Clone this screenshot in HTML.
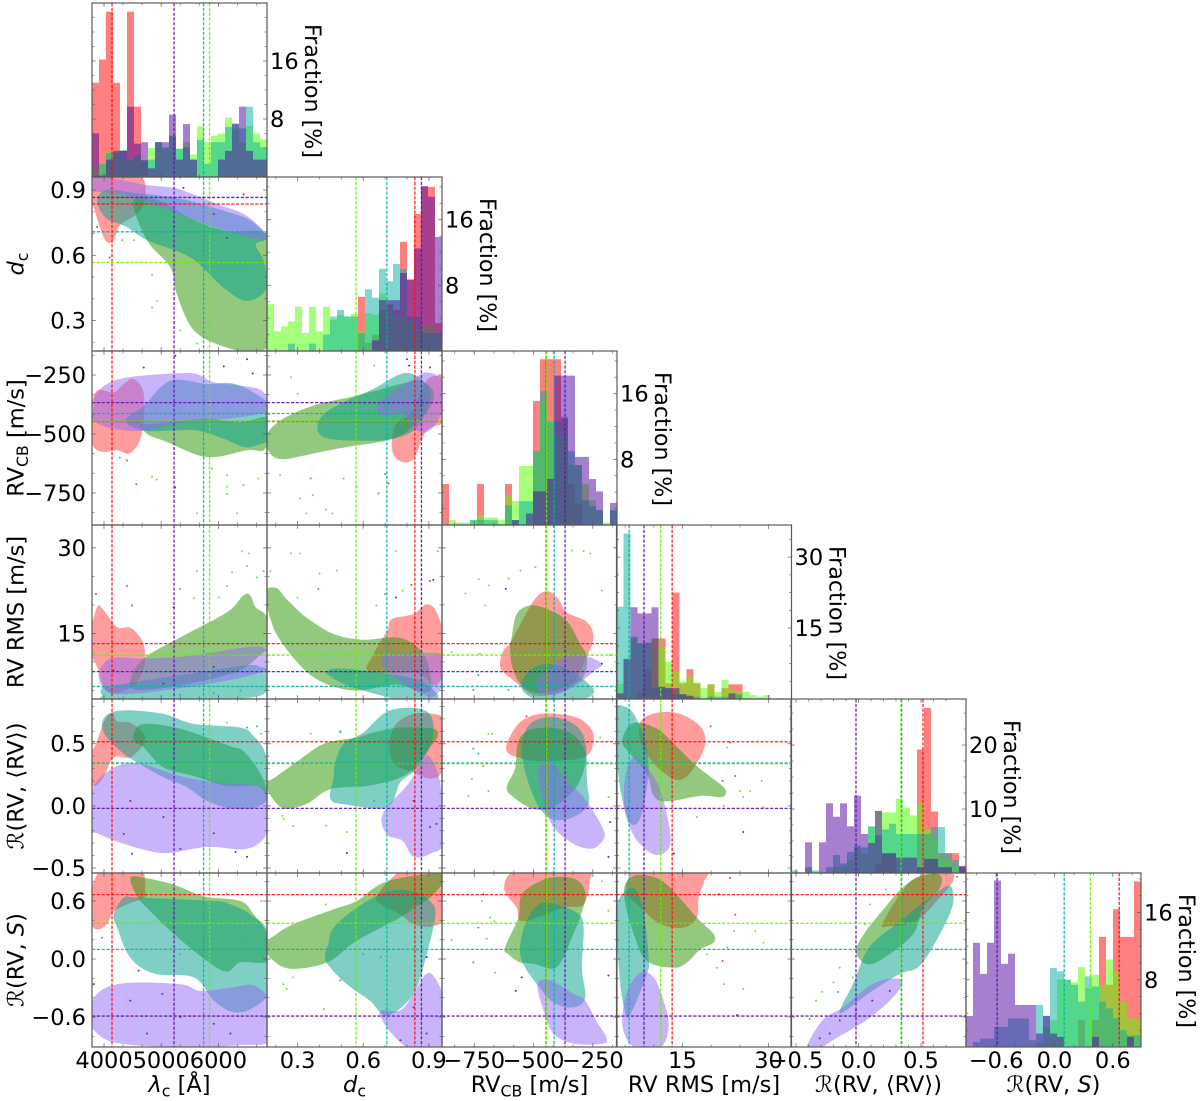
<!DOCTYPE html>
<html lang="en">
<head>
<meta charset="utf-8">
<title>Corner plot of RV metrics</title>
<style>
html,body{margin:0;padding:0;background:#fff;}
svg{display:block;font-family:"DejaVu Sans","Liberation Sans",sans-serif;filter:blur(0.3px);}
</style>
</head>
<body>
<svg id="chart" xmlns="http://www.w3.org/2000/svg" width="1200" height="1101" viewBox="0 0 1200 1101"></svg>
<script>
/* axis ranges and tick labels */
const limLam=[3790,6850], limD=[0.16,0.96], limRv=[-886,-148], limRms=[3.5,34], limR1=[-0.54,0.86], limR2=[-0.91,0.89];
const ticksLam=[4000,5000,6000], ticksD=[0.3,0.6,0.9], ticksRv=[-750,-500,-250], ticksRms=[15,30], ticksR1=[-0.5,0,0.5], ticksR2=[-0.6,0,0.6];
const minorLam=333.33, minorD=0.1, minorRv=83.33, minorRms=5, minorR1=0.1, minorR2=0.2;
const labelsLam=["4000","5000","6000"], labelsD=["0.3","0.6","0.9"], labelsRv=["−750","−500","−250"], labelsRms=["15","30"], labelsR1=["−0.5","0.0","0.5"], labelsR2=["−0.6","0.0","0.6"];
/* histogram fractions [%], 25 bins per variable */
const histLamRed=[13,16.2,22.8,13,3.6,22.8,9.7,2.3,0,0,0,0,0,0,0,0,0,0,0,0,0,0,0,0,0];
const histLamLime=[1.4,1.8,3.4,3.4,2.3,2.3,2.8,2.3,4,4.8,3.9,5.7,3.9,4.8,3.1,7,4.8,5.7,6,8.2,6.7,4.8,7,6,5.2];
const histLamTeal=[.2,1.8,3.3,3.4,3.7,2.3,3,2.3,2.4,4.8,4.1,5.7,3.9,4.1,2.4,5.1,1.8,4.8,4.8,6.9,7.4,6.7,9.7,4.8,4.1];
const histLamPurple=[6,.2,2.4,3.6,3.6,9.7,4.6,4.8,1.2,4.8,4.8,8.6,2.4,7.3,2.4,0,0,0,2.4,3.6,7.3,9.7,3.6,2.4,2.4];
const histDRed=[0,0,0,0,0,0,0,0,0,0,0,0,0,6.6,1,2,5,5.7,5,13.3,8.7,16.7,20,20,3.4];
const histDLime=[5.7,2.4,3,3.6,5.4,2.2,5.4,2.4,5.4,3.8,4.4,4.2,4.5,2.4,4.6,4.4,7,5.4,4.2,4.2,3.6,2.2,3,3,2.2];
const histDTeal=[0,0,0,.9,0,0,.9,0,2,4.2,5,4.2,4.2,2.2,7.5,6.5,10,8.5,10.6,10,4.2,4.2,2.2,2.2,2.2];
const histDPurple=[0,0,0,0,0,0,0,0,0,0,0,0,0,0,0,1.3,6.2,6.2,6.2,9.5,8.7,12.5,20.1,18.8,13.9];
const histRvRed=[5,0,0,0,0,5,0,0,0,5,0,0,0,15.1,20.2,20.2,20.2,13,5,2.6,0,0,0,0,0];
const histRvLime=[0,.6,.3,.3,.6,1.2,.9,.9,.6,3.6,2.9,7.2,7.2,9,14.8,12.6,10.9,10.9,7.3,7.3,5,3,1.8,.3,1.8];
const histRvTeal=[0,0,0,0,.6,.6,.6,.6,0,2.4,.6,2.9,2.9,9,16.3,12.6,12.6,13.2,9,7.3,3,2.3,1.8,0,1.8];
const histRvPurple=[0,0,0,0,0,0,0,0,0,0,.6,0,1.4,4.1,4.1,5.6,18.2,18.2,18.2,8.3,8.3,5.6,4.1,0,2.7];
const histRmsRed=[0,0,0,1.2,6.3,12.8,12.8,3.3,22.5,3.3,6.3,3.3,0,3.1,0,2.3,3.1,3.1,0,0,0,0,0,0,0];
const histRmsLime=[3.3,8.6,12.8,11.8,11.9,12.8,11,7.9,5.8,3.7,5,3.5,2.3,3.1,1.5,4,1.9,1.5,1.5,.8,.5,.8,0,.1,0];
const histRmsTeal=[19.5,35,13.2,11.8,11.9,2.3,2.3,2.3,1,1,.5,.5,0,.5,.5,.5,0,1,0,0,0,0,0,0,0];
const histRmsPurple=[1.2,8.4,19.4,18.1,18.1,19.4,2.6,2.3,2.3,1,.7,0,0,0,0,0,1.2,0,0,0,0,0,0,0,0];
const histR1Red=[0,0,0,0,0,0,0,0,0,0,0,0,1.5,3,3.1,0,0,0,19.3,25.8,9.6,3.1,3.1,3.1,1];
const histR1Lime=[0,0,0,0,0,0,1,1,2,4,3,7.2,9.7,9.5,9.5,11.6,10.2,9,11,6.7,5.4,2.5,2,1,0];
const histR1Teal=[.4,0,.9,.4,0,.9,2.8,1.5,3.3,4.3,4,7.3,5.9,6.8,7.7,6.1,6.1,6.1,6.1,6.1,7.2,7.2,3.1,2,.9];
const histR1Purple=[0,0,4.8,0,4.8,10.9,8.8,10.9,7.3,12.1,6.1,4.7,9.7,3.1,3.1,2.4,2.4,2.4,.9,2.2,2.2,.9,.9,0,1.1];
const histR2Red=[0,0,0,0,0,0,0,0,0,0,0,0,0,0,0,0,3.2,0,3.2,13.1,7.4,16.4,13.1,13.1,19.7];
const histR2Lime=[0,0,0,0,0,0,0,0,0,0,.5,2.4,3.2,8,8,7.7,9.5,7,8.6,7.4,10.4,8.9,5.4,3.4,3.4];
const histR2Teal=[0,.6,1,1,2.4,2.4,3.4,3.4,3.4,.8,5,3.7,9.4,9,8,7.4,5.4,8.4,7.2,5.4,4.6,3.4,2,1.4,1.4];
const histR2Purple=[3.7,12.4,8.7,12.4,19.8,9.9,11.1,5,5,5,1.6,3.7,1.6,1.2,0,0,0,0,1.2,0,0,0,0,1.2,0];
/* population medians: red, lime, teal, purple */
const medLam=[4140,5846,5741,5225], medD=[.836,.567,.708,.866], medRv=[-447,-445,-413,-367], medRms=[13.2,11.2,5.7,8.3], medR1=[.516,.34,.345,-.02], medR2=[.666,.37,.10,-.59];
/* fraction axes: tick values and scale top */
const fracTop=[24,21.2,21.2,36.8,27.2,20.7];
const fracTicks0=[8,16], fracTicks1=[8,16], fracTicks2=[8,16], fracTicks3=[15,30], fracTicks4=[10,20], fracTicks5=[8,16];
/* KDE contour outlines in data units [x value, y value] */
const kde_d_lam={red:[[3740,.91],[3820,.82],[4020,.67],[4170,.67],[4285,.74],[4575,.79],[4720,.86],[4605,.97],[3740,.97]],
lime:[[4520,.85],[4750,.67],[5160,.545],[5275,.42],[5570,.255],[6095,.18],[6675,.157],[6910,.24],[6910,.67],[6150,.71],[5510,.77],[4985,.85]],
teal:[[3880,.85],[4040,.90],[4460,.89],[5335,.86],[6150,.80],[6560,.76],[6850,.68],[6650,.65],[6790,.575],[6850,.45],[6500,.39],[6095,.45],[5510,.59],[4750,.67],[4400,.73],[4040,.77]],
purple:[[3740,.97],[4700,.925],[5220,.91],[5510,.885],[6035,.83],[6440,.79],[6730,.73],[6900,.68],[6675,.675],[6150,.71],[5510,.77],[4700,.85],[4240,.885],[3740,.90]]};
const kde_rv_lam={red:[[3760,-480],[3820,-555],[4000,-576],[4230,-569],[4460,-581],[4665,-499],[4695,-330],[4520,-267],[4345,-288],[4170,-323],[3880,-316],[3760,-400]],
lime:[[4575,-440],[4750,-499],[5100,-534],[5800,-598],[6500,-569],[6820,-562],[6940,-430],[6385,-450],[5800,-436],[5160,-450],[4635,-457]],
teal:[[4375,-443],[4695,-380],[5160,-274],[5800,-288],[6210,-284],[6560,-316],[6910,-387],[6910,-513],[6675,-548],[6440,-555],[6095,-520],[5625,-485],[5220,-485],[4695,-485]],
purple:[[3820,-387],[3880,-323],[4170,-274],[4635,-253],[5335,-242],[5625,-246],[5920,-281],[6385,-295],[6765,-316],[6880,-387],[6850,-408],[6150,-436],[5335,-450],[4750,-485],[4170,-478],[3820,-443]]};
const kde_rv_d={red:[[.73,-541],[.745,-598],[.79,-621],[.835,-598],[.89,-485],[.98,-436],[.98,-274],[.905,-260],[.86,-330],[.815,-415],[.75,-457]],
lime:[[.155,-513],[.175,-583],[.235,-607],[.37,-583],[.525,-555],[.71,-527],[.805,-485],[.905,-387],[.92,-316],[.86,-274],[.80,-281],[.57,-337],[.37,-380],[.22,-443]],
teal:[[.39,-471],[.42,-513],[.525,-527],[.71,-524],[.83,-485],[.89,-401],[.905,-316],[.845,-253],[.77,-246],[.645,-309],[.51,-365],[.42,-415]],
purple:[[.66,-387],[.69,-422],[.78,-415],[.83,-478],[.89,-492],[.94,-443],[.97,-358],[.97,-274],[.89,-239],[.83,-267],[.74,-316],[.68,-358]]};
const kde_rms_lam={red:[[3740,14.3],[3880,19.6],[4000,19],[4230,16.1],[4460,16],[4665,13.8],[4720,10.9],[4665,8],[4490,5.6],[4170,4.5],[4000,5.6],[3880,9.1],[3740,12]],
lime:[[4460,6.8],[4695,10.6],[5335,14.3],[6150,18.7],[6440,21.7],[6560,21.6],[6650,19.6],[6850,17.8],[6910,12],[6790,11.7],[6325,8.3],[5335,5.9],[4575,5.1]],
teal:[[3965,5.4],[4170,5.9],[5335,7.7],[6500,9.4],[6735,9.1],[6880,8.5],[6880,5.6],[6440,3.6],[4170,3.3],[3965,4.2]],
purple:[[3905,7.7],[4110,10.6],[4695,10.6],[5335,10.9],[5920,11.7],[6500,12.6],[6820,12.3],[6940,9.1],[6325,7.1],[5335,5.4],[4460,4.4],[4050,4.8]]};
const kde_rms_d={red:[[.71,15.5],[.73,17.5],[.83,18.4],[.89,20.1],[.94,18.4],[.98,12],[.96,7.4],[.92,5.9],[.845,8],[.63,8.3],[.64,10.9]],
lime:[[.155,22.5],[.205,22.9],[.25,21],[.34,17.8],[.465,14.9],[.60,13.9],[.77,14.2],[.875,11.4],[.91,6.8],[.89,4.6],[.75,6],[.55,5],[.37,7.4],[.22,13.8],[.165,19]],
teal:[[.435,8.5],[.525,8.8],[.83,7.1],[.935,4.5],[.92,3.4],[.77,3.4],[.645,4.5],[.525,5.9],[.44,7.7]],
purple:[[.685,10.3],[.71,11.4],[.97,11.3],[.98,7.4],[.94,4.5],[.905,3.9],[.83,5.1],[.75,7.1],[.69,9.1]]};
const kde_rms_rv={red:[[-641,10],[-627,12],[-592,13.8],[-500,20.7],[-444,22.4],[-395,21],[-360,18.7],[-275,17],[-247,14.3],[-275,10.9],[-332,6.2],[-402,4.5],[-500,4.2],[-585,6.8],[-634,8.5]],
lime:[[-592,14.3],[-571,18.4],[-515,19.9],[-444,19.3],[-360,17.2],[-304,13.2],[-275,10.9],[-289,7.4],[-360,5.6],[-472,4.5],[-543,5.6],[-585,8.5],[-599,12]],
teal:[[-550,6.2],[-515,8.5],[-444,9.7],[-346,8.5],[-261,5.9],[-247,4.5],[-304,3.4],[-472,3.4],[-536,4.5]],
purple:[[-486,6.2],[-444,8.5],[-346,11.4],[-289,11.2],[-212,9.7],[-247,8.3],[-332,5.6],[-416,4.2],[-472,4.8]]};
const kde_r1_lam={red:[[3750,.20],[3850,.16],[4000,.24],[4170,.39],[4460,.39],[4695,.50],[4695,.58],[4460,.67],[4230,.68],[4140,.75],[4000,.68],[3880,.52],[3750,.39]],
lime:[[4520,.58],[4695,.66],[5335,.62],[6210,.48],[6440,.44],[6735,.26],[6880,.07],[6675,.16],[6150,.16],[5570,.24],[5040,.31],[4695,.47],[4550,.51]],
teal:[[3965,.66],[4080,.74],[4400,.77],[5040,.74],[5570,.66],[6385,.63],[6620,.56],[6820,.42],[6880,.10],[6675,-.01],[6210,-.02],[5800,.04],[5450,.15],[5040,.23],[4575,.35],[4345,.42],[4050,.55]],
purple:[[3740,.04],[3880,.20],[4230,.32],[4635,.34],[5335,.24],[6095,.18],[6675,.16],[6910,.04],[6850,-.22],[6500,-.345],[5800,-.33],[5040,-.38],[4345,-.305],[3880,-.22],[3740,-.2]]};
const kde_r1_d={red:[[.72,.50],[.74,.34],[.83,.27],[.905,.22],[.96,.28],[.98,.58],[.96,.71],[.92,.74],[.83,.74],[.75,.66]],
lime:[[.155,.175],[.17,.10],[.235,-.02],[.34,.015],[.45,.135],[.615,.16],[.75,.215],[.83,.30],[.905,.47],[.94,.56],[.92,.62],[.77,.63],[.645,.59],[.57,.55],[.42,.50],[.30,.36],[.205,.24]],
teal:[[.47,.34],[.51,.50],[.60,.59],[.70,.75],[.80,.79],[.89,.76],[.92,.66],[.91,.50],[.845,.30],[.77,.19],[.71,-.01],[.525,.01],[.45,.055],[.465,.23]],
purple:[[.685,-.145],[.715,-.24],[.78,-.28],[.83,-.41],[.905,-.385],[.97,-.28],[.95,.20],[.905,.39],[.875,.375],[.805,.175],[.72,.015],[.69,-.065]]};
const kde_r1_rv={red:[[-616,.46],[-564,.66],[-472,.74],[-332,.72],[-261,.63],[-247,.52],[-289,.39],[-472,.36],[-564,.39]],
lime:[[-613,.15],[-578,.30],[-567,.50],[-529,.60],[-430,.63],[-339,.58],[-282,.44],[-289,.28],[-332,.12],[-416,-.01],[-500,-.025],[-585,.07]],
teal:[[-550,.50],[-515,.66],[-430,.715],[-332,.66],[-282,.52],[-275,.20],[-268,.015],[-332,-.09],[-416,-.11],[-472,-.025],[-515,.15],[-543,.34]],
purple:[[-480,.28],[-451,.36],[-416,.35],[-374,.23],[-289,.07],[-233,-.09],[-200,-.225],[-219,-.305],[-261,-.345],[-332,-.305],[-416,-.17],[-458,.04]]};
const kde_r1_rms={red:[[7.7,.68],[10.6,.75],[14.6,.74],[18.1,.64],[19,.52],[18.1,.39],[15.8,.24],[13.5,.215],[10,.34],[7.7,.52]],
lime:[[4.5,.51],[5.4,.63],[7.1,.67],[10.6,.62],[13.5,.50],[17,.34],[19.3,.255],[22.2,.15],[22.5,.095],[21.6,.07],[18.1,.08],[12.3,.035],[10,.08],[8.8,.255],[5.9,.42]],
teal:[[3.5,.76],[4.8,.80],[6.5,.74],[8.3,.55],[9.1,.34],[8.8,.15],[7.7,-.09],[6.2,-.15],[4.8,-.01],[3.7,.31]],
purple:[[4.8,.04],[5.1,.255],[6.5,.39],[8.8,.31],[11.2,.12],[12.9,-.225],[12.3,-.36],[10,-.39],[7.1,-.28],[5.4,-.12]]};
const kde_r2_lam={red:[[3740,.39],[3880,.305],[4050,.36],[4170,.49],[4400,.565],[4695,.635],[4720,.705],[4635,.93],[3965,.93],[3740,.60]],
lime:[[4460,.84],[4695,.84],[5220,.77],[5745,.65],[6385,.60],[6620,.46],[6850,.26],[6880,-.02],[6385,-.035],[6150,-.13],[5800,-.02],[5220,.26],[4750,.53],[4575,.65]],
teal:[[4170,.46],[4345,.635],[4605,.635],[5920,.60],[6210,.565],[6560,.46],[6880,.26],[6900,-.30],[6620,-.50],[6270,-.55],[5920,-.43],[5570,-.19],[4870,-.15],[4460,.015],[4230,.325]],
purple:[[3740,-.60],[3880,-.36],[4345,-.25],[5335,-.26],[5685,-.33],[6270,-.29],[6620,-.275],[6900,-.445],[6900,-.84],[6385,-.89],[5335,-.91],[4285,-.875],[3880,-.77]]};
const kde_r2_d={red:[[.66,.635],[.715,.805],[.80,.93],[.98,.93],[.98,.46],[.92,.34],[.83,.36],[.77,.46],[.68,.565]],
lime:[[.155,.155],[.175,.015],[.265,-.10],[.435,-.035],[.57,.19],[.77,.43],[.83,.53],[.905,.635],[.97,.805],[.97,.89],[.71,.805],[.57,.60],[.465,.515],[.28,.36],[.205,.26]],
teal:[[.425,.015],[.45,-.09],[.525,-.26],[.63,-.43],[.71,-.585],[.83,-.36],[.89,.05],[.93,.46],[.905,.60],[.83,.70],[.71,.70],[.57,.53],[.465,.325],[.44,.155]],
purple:[[.68,-.60],[.73,-.77],[.83,-.95],[.98,-.95],[.97,-.43],[.92,-.17],[.88,-.17],[.83,-.36],[.77,-.53],[.685,-.53]]};
const kde_r2_rv={red:[[-624,.74],[-557,.93],[-275,.93],[-261,.83],[-289,.565],[-374,.53],[-543,.39],[-571,.53]],
lime:[[-620,.12],[-564,.43],[-550,.67],[-472,.805],[-402,.85],[-318,.82],[-280,.67],[-304,.43],[-332,.26],[-374,.015],[-416,-.10],[-500,-.05],[-557,-.035],[-606,.05]],
teal:[[-557,.12],[-536,.36],[-494,.53],[-444,.585],[-318,.48],[-289,.325],[-296,-.09],[-282,-.40],[-332,-.50],[-416,-.45],[-486,-.26],[-543,-.05]],
purple:[[-483,-.26],[-430,-.22],[-332,-.36],[-282,-.43],[-233,-.65],[-195,-.80],[-205,-.875],[-332,-.875],[-416,-.77],[-458,-.53]]};
const kde_r2_rms={red:[[5.4,.805],[7.7,.93],[18.7,.93],[18.7,.79],[17.8,.635],[17.5,.43],[15.2,.325],[11.2,.36],[7.7,.53],[5.4,.67]],
lime:[[4.8,.67],[5.9,.84],[8.8,.865],[12.3,.77],[17.5,.43],[20.4,.26],[20.4,.17],[18.1,.10],[15.8,-.035],[13.5,-.09],[8.8,-.02],[6.5,.26]],
teal:[[3.6,.53],[5.4,.72],[7.1,.70],[8.3,.46],[9.1,.015],[8.8,-.155],[5.9,-.57],[4.8,-.50],[3.9,-.09]],
purple:[[4.5,-.635],[5.4,-.33],[7.7,-.14],[10,-.19],[11.7,-.43],[12.6,-.70],[11.2,-.92],[7.7,-.95],[5.4,-.84]]};
const kde_r2_r1={red:[[.19,.36],[.33,.665],[.46,.84],[.73,.89],[.755,.805],[.65,.635],[.46,.39],[.25,.34]],
lime:[[-.02,.085],[.06,.29],[.19,.50],[.35,.735],[.515,.87],[.65,.87],[.65,.735],[.515,.53],[.435,.255],[.19,0],[.06,-.05]],
teal:[[-.14,-.50],[-.045,-.26],[.085,.12],[.33,.39],[.57,.635],[.73,.755],[.755,.565],[.65,.255],[.49,-.07],[.33,-.155],[.11,-.33],[-.125,-.55]],
purple:[[-.42,-.93],[-.29,-.635],[-.125,-.50],[.11,-.26],[.30,-.20],[.35,-.26],[.25,-.43],[.06,-.635],[-.205,-.84],[-.34,-.95]]};
/* individual simulation points */
const dots_d_lam={red:[[4100,.59],[3880,.73]],lime:[[4840,.51],[4930,.39],[4840,.36],[5335,.255],[5625,.195],[6150,.35],[6385,.21],[5830,.30],[6500,.315],[6620,.27],[4315,.67],[4520,.67]],teal:[[5920,.67],[6095,.56],[6385,.545],[5220,.64]],purple:[[5390,.91],[6440,.88],[6150,.68],[5920,.79]]};
const dots_rv_lam={red:[[4565,-713],[4400,-612]],lime:[[4840,-682],[4925,-693],[6150,-675],[6150,-724],[6150,-755],[6325,-837],[6440,-717],[6700,-689],[5625,-837],[5890,-647]],teal:[[4275,-600]],purple:[[4695,-218],[6095,-213],[6500,-183],[6600,-243],[5245,-168],[5245,-727]]};
const dots_rv_d={red:[[.715,-710]],lime:[[.27,-260],[.17,-215],[.30,-330],[.22,-675],[.31,-773],[.34,-837],[.51,-689],[.43,-820],[.46,-837],[.37,-760],[.65,-210],[.57,-724]],teal:[[.36,-689],[.70,-670],[.67,-752]],purple:[[.80,-183],[.81,-210],[.905,-218]]};
const dots_rms_lam={red:[[4400,23.3],[4490,19.9],[3860,21.9]],lime:[[6240,25.7],[6410,29.4],[6530,29],[6500,26.8],[6675,24.8],[6790,25.9],[6150,23.3],[5570,21.2],[5160,16.7],[5625,25.9],[6005,21.3]],teal:[[5325,22.8],[5920,4.5],[5335,4.2],[6385,5]],purple:[[5220,19.6],[4170,8.5],[5920,9.1],[5040,6.2]]};
const dots_rms_d={red:[[.905,24.2],[.82,23.5]],lime:[[.175,25.9],[.27,29],[.31,29],[.48,26],[.40,25.5],[.30,21.3],[.66,19.9],[.78,22.5],[.94,29.4],[.75,29.4]],teal:[[.395,22.8],[.70,21.9]],purple:[[.92,24.4],[.75,21.3]]};
const dots_rms_rv={red:[],lime:[[-338,29.5],[-289,29.4],[-261,29],[-555,26],[-492,26.6],[-731,24.5],[-787,22],[-689,23.4],[-605,24.6],[-212,22.5],[-703,19.9],[-846,11.7],[-726,11.4],[-177,11.2]],teal:[[-733,7.7],[-754,5.1],[-606,5.1]],purple:[[-617,22.8],[-212,9.7]]};
const dots_r1_lam={red:[],lime:[[6750,.58],[6150,.67],[4490,.74]],teal:[[6675,.64],[6500,.63]],purple:[[4490,-.385],[6300,-.37],[6500,-.41],[5335,-.345],[4460,.04],[5040,-.09],[5920,-.22],[4345,-.225]]};
const dots_r1_d={red:[],lime:[[.235,-.105],[.28,-.16],[.43,-.16],[.525,-.21],[.36,.58],[.495,.59],[.23,-.08]],teal:[[.495,.60],[.65,.04]],purple:[[.83,.04],[.905,-.17],[.935,-.145],[.525,-.38]]};
const dots_r1_rv={red:[[-712,.32],[-530,.72]],lime:[[-690,.58],[-675,.58],[-760,.215],[-712,.32],[-775,.08],[-690,.12],[-219,.55],[-184,.07]],teal:[[-733,.42],[-754,.46]],purple:[[-184,-.41],[-177,-.13]]};
const dots_r1_rms={red:[[22,.2],[24.2,.24],[19.9,.64],[23.3,.51]],lime:[[25,.12],[26.8,.12],[28.8,.20],[29.1,-.01],[22.2,0],[22.8,.47],[17.5,-.09],[25.6,.07]],teal:[],purple:[[25.6,-.21],[13.5,-.385]]};
const dots_r2_lam={red:[],lime:[[6750,.6],[6150,.68],[4950,.72]],teal:[[3965,.22],[6500,.19],[5335,.05]],purple:[[4460,-.43],[5335,-.6],[4750,-.77],[6210,-.77],[5920,-.67],[5020,-.36],[3820,-.26],[4605,-.12]]};
const dots_r2_d={red:[],lime:[[.235,-.26],[.25,-.31],[.28,-.19],[.43,.565],[.175,.02],[.42,-.52],[.525,-.19]],teal:[[.495,-.22],[.68,.02],[.60,.05]],purple:[[.89,.02],[.83,-.5],[.89,-.77],[.77,-.84]]};
const dots_r2_rv={red:[[-712,.67]],lime:[[-683,.43],[-665,.39],[-846,.2],[-697,.21],[-662,-.14],[-718,.6],[-212,.805],[-184,.5]],teal:[[-733,.325],[-754,-.035]],purple:[[-575,-.33],[-550,-.19],[-184,-.17]]};
const dots_r2_rms={red:[[23.3,.84],[24.2,.46],[22,-.02]],lime:[[24,.29],[27.7,.29],[29.1,.17],[21,-.09],[22.8,.12],[25.6,-.31],[22.2,-.26],[19.3,.05]],teal:[],purple:[[21.3,.67],[24.5,-.58]]};
const dots_r2_r1={red:[],lime:[[.09,.565],[.22,.72],[-.045,-.19],[-.2,-.24],[-.29,-.34],[-.34,-.43],[.05,.36],[-.15,-.09]],teal:[[-.165,-.34],[-.39,-.62],[.79,.85],[.635,.1]],purple:[[-.15,-.635],[-.02,-.53],[-.23,-.77],[-.31,-.82],[.25,-.33],[.11,-.43]]};

/* layout and style */
const NS='http://www.w3.org/2000/svg';
const svg=document.getElementById('chart');
const LEFT=[92,267,442,616.5,791,966], TOP=[3,177,351,525,699,873], PW=175, PH=174;
const FS=22.5;
const SERIES=['red','lime','teal','purple'];
const HIST_FILL={red:'rgba(255,0,0,.5)',lime:'rgba(85,255,0,.52)',teal:'rgba(0,175,160,.5)',purple:'rgba(80,0,160,.5)'};
const KDE_FILL={red:'rgba(255,50,50,.48)',lime:'rgba(39,147,0,.5)',teal:'rgba(0,160,140,.5)',purple:'rgba(147,104,247,.5)'};
const LINE={red:'#ff0a0a',lime:'#66ee00',teal:'#00b3a4',purple:'#5b10b0'};
const DOT={red:'#f04040',lime:'#70e040',teal:'#30b0a0',purple:'#5a30b0'};
const VARS=[
 {lim:limLam,ticks:ticksLam,labels:labelsLam,minor:minorLam,med:medLam,key:'lam',xseg:[['λ','i'],['c','s'],[' [Å]','']]},
 {lim:limD,ticks:ticksD,labels:labelsD,minor:minorD,med:medD,key:'d',xseg:[['d','i'],['c','s']]},
 {lim:limRv,ticks:ticksRv,labels:labelsRv,minor:minorRv,med:medRv,key:'rv',xseg:[['RV',''],['CB','s'],[' [m/s]','']]},
 {lim:limRms,ticks:ticksRms,labels:labelsRms,minor:minorRms,med:medRms,key:'rms',xseg:[['RV RMS [m/s]','']]},
 {lim:limR1,ticks:ticksR1,labels:labelsR1,minor:minorR1,med:medR1,key:'r1',xseg:[['ℛ(RV, ⟨RV⟩)','']]},
 {lim:limR2,ticks:ticksR2,labels:labelsR2,minor:minorR2,med:medR2,key:'r2',xseg:[['ℛ(RV, ',''],['S','i'],[')','']]}
];
const HISTS=[[histLamRed,histLamLime,histLamTeal,histLamPurple],[histDRed,histDLime,histDTeal,histDPurple],[histRvRed,histRvLime,histRvTeal,histRvPurple],[histRmsRed,histRmsLime,histRmsTeal,histRmsPurple],[histR1Red,histR1Lime,histR1Teal,histR1Purple],[histR2Red,histR2Lime,histR2Teal,histR2Purple]];
const FRAC_TICKS=[fracTicks0,fracTicks1,fracTicks2,fracTicks3,fracTicks4,fracTicks5];
const KDES={d_lam:kde_d_lam,rv_lam:kde_rv_lam,rv_d:kde_rv_d,rms_lam:kde_rms_lam,rms_d:kde_rms_d,rms_rv:kde_rms_rv,r1_lam:kde_r1_lam,r1_d:kde_r1_d,r1_rv:kde_r1_rv,r1_rms:kde_r1_rms,r2_lam:kde_r2_lam,r2_d:kde_r2_d,r2_rv:kde_r2_rv,r2_rms:kde_r2_rms,r2_r1:kde_r2_r1};
const DOTS={d_lam:dots_d_lam,rv_lam:dots_rv_lam,rv_d:dots_rv_d,rms_lam:dots_rms_lam,rms_d:dots_rms_d,rms_rv:dots_rms_rv,r1_lam:dots_r1_lam,r1_d:dots_r1_d,r1_rv:dots_r1_rv,r1_rms:dots_r1_rms,r2_lam:dots_r2_lam,r2_d:dots_r2_d,r2_rv:dots_r2_rv,r2_rms:dots_r2_rms,r2_r1:dots_r2_r1};

function make(tag,attrs,parent){
  const el=document.createElementNS(NS,tag);
  for(const k in attrs) el.setAttribute(k,attrs[k]);
  (parent||svg).appendChild(el);
  return el;
}
function xAxis(col){const v=VARS[col];return val=>LEFT[col]+(val-v.lim[0])/(v.lim[1]-v.lim[0])*PW;}
function yAxis(row){const v=VARS[row];return val=>TOP[row]+PH-(val-v.lim[0])/(v.lim[1]-v.lim[0])*PH;}
function fracAxis(i){return val=>TOP[i]+PH-val/fracTop[i]*PH;}
function smoothPath(pts){
  const n=pts.length;let d='M'+pts[0][0].toFixed(1)+' '+pts[0][1].toFixed(1);
  for(let i=0;i<n;i++){
    const p0=pts[(i-1+n)%n],p1=pts[i],p2=pts[(i+1)%n],p3=pts[(i+2)%n];
    const c1x=p1[0]+(p2[0]-p0[0])/6,c1y=p1[1]+(p2[1]-p0[1])/6,c2x=p2[0]-(p3[0]-p1[0])/6,c2y=p2[1]-(p3[1]-p1[1])/6;
    d+='C'+c1x.toFixed(1)+' '+c1y.toFixed(1)+' '+c2x.toFixed(1)+' '+c2y.toFixed(1)+' '+p2[0].toFixed(1)+' '+p2[1].toFixed(1);
  }
  return d+'Z';
}
function segText(parent,segs,size){
  let shifted=false;
  segs.forEach(s=>{
    const t=document.createElementNS(NS,'tspan');
    t.textContent=s[0];
    if(s[1]==='i') t.setAttribute('font-style','italic');
    if(s[1]==='s'){t.setAttribute('font-size',size*.7);t.setAttribute('dy',size*.2);shifted=true;}
    else if(shifted){t.setAttribute('dy',-size*.2);shifted=false;}
    parent.appendChild(t);
  });
}
const defs=make('defs',{});
function panelGroup(row,col,name){
  const id='clip-'+row+'-'+col;
  const cp=make('clipPath',{id:id},defs);
  make('rect',{x:LEFT[col],y:TOP[row],width:PW,height:PH},cp);
  const g=make('g',{'clip-path':'url(#'+id+')'});
  
  
  return g;
}
function frame(row,col,yT,yMinorStep,yFn){
  const x0=LEFT[col],x1=x0+PW,y0=TOP[row],y1=y0+PH;
  const fx=xAxis(col),v=VARS[col];
  const tg=make('g',{stroke:'#555','stroke-width':.8,opacity:.75});
  
  
  const base=v.ticks[0];
  for(let k=-12;k<=12;k++){
    const val=base+k*v.minor;
    if(val<v.lim[0]||val>v.lim[1]) continue;
    const px=fx(val);
    make('line',{x1:px,x2:px,y1:y1,y2:y1-2.5},tg);
    make('line',{x1:px,x2:px,y1:y0,y2:y0+2.5},tg);
  }
  v.ticks.forEach(t=>{const px=fx(t);make('line',{x1:px,x2:px,y1:y1,y2:y1-4},tg);make('line',{x1:px,x2:px,y1:y0,y2:y0+4},tg);});
  const b0=yT[0];
  for(let k=-40;k<=40;k++){
    const py=yFn(b0+k*yMinorStep);
    if(py<y0||py>y1) continue;
    make('line',{x1:x0,x2:x0+2.5,y1:py,y2:py},tg);
    make('line',{x1:x1,x2:x1-2.5,y1:py,y2:py},tg);
  }
  yT.forEach(t=>{const py=yFn(t);make('line',{x1:x0,x2:x0+4,y1:py,y2:py},tg);make('line',{x1:x1,x2:x1-4,y1:py,y2:py},tg);});
  const sp=make('rect',{x:x0,y:y0,width:PW,height:PH,fill:'none',stroke:'#5a5a5a','stroke-width':1.2});
  
  
}
function vMedian(g,col,row){
  const fx=xAxis(col);
  SERIES.forEach((s,i)=>{
    const px=fx(VARS[col].med[i]);
    const ln=make('line',{x1:px,x2:px,y1:TOP[row],y2:TOP[row]+PH,stroke:LINE[s],'stroke-width':1.3,'stroke-dasharray':'3.2 1.6',opacity:.9},g);
    
    
  });
}
function hMedian(g,row,col){
  const fy=yAxis(row);
  SERIES.forEach((s,i)=>{
    const py=fy(VARS[row].med[i]);
    const ln=make('line',{x1:LEFT[col],x2:LEFT[col]+PW,y1:py,y2:py,stroke:LINE[s],'stroke-width':1.3,'stroke-dasharray':'3.2 1.6',opacity:.9},g);
    
    
  });
}

/* diagonal histograms */
for(let i=0;i<6;i++){
  const g=panelGroup(i,i,'histogram-'+VARS[i].key);
  const fy=fracAxis(i),v=VARS[i],fx=xAxis(i);
  SERIES.forEach((s,si)=>{
    const vals=HISTS[i][si],w=(v.lim[1]-v.lim[0])/vals.length;
    vals.forEach((val,b)=>{
      if(val<=0) return;
      const xa=fx(v.lim[0]+b*w),xb=fx(v.lim[0]+(b+1)*w);
      const r=make('rect',{x:xa,y:fy(val),width:xb-xa,height:fy(0)-fy(val),fill:HIST_FILL[s]},g);
      
      
    });
  });
  vMedian(g,i,i);
  frame(i,i,FRAC_TICKS[i],FRAC_TICKS[i][0]/4,fy);
  FRAC_TICKS[i].forEach(t=>{
    const lb=make('text',{x:LEFT[i]+PW+3,y:fy(t)+8,'font-size':FS,fill:'#000'});
    lb.textContent=String(t);
    
    
  });
  const xt=LEFT[i]+PW+38,yt=TOP[i]+88;
  const ft=make('text',{x:xt,y:yt,'font-size':22.2,fill:'#000','text-anchor':'middle',transform:'rotate(90 '+xt+' '+yt+')'});
  ft.textContent='Fraction [%]';
  
  
}

/* off-diagonal KDE panels */
for(let row=1;row<6;row++){
  for(let col=0;col<row;col++){
    const key=VARS[row].key+'_'+VARS[col].key;
    if(!KDES[key]) continue;
    const g=panelGroup(row,col,'panel-'+key);
    const fx=xAxis(col),fy=yAxis(row);
    SERIES.forEach(s=>{
      const pts=KDES[key][s].map(p=>[fx(p[0]),fy(p[1])]);
      const path=make('path',{d:smoothPath(pts),fill:KDE_FILL[s]},g);
      
      
    });
    SERIES.forEach(s=>{
      (DOTS[key][s]||[]).forEach(p=>{
        const c=make('circle',{cx:fx(p[0]),cy:fy(p[1]),r:1,fill:DOT[s]},g);
        
        
      });
    });
    vMedian(g,col,row);
    hMedian(g,row,col);
    frame(row,col,VARS[row].ticks,VARS[row].minor,fy);
  }
}

/* bottom x tick labels and titles */
for(let col=0;col<6;col++){
  const v=VARS[col],fx=xAxis(col);
  v.ticks.forEach((t,i)=>{
    const lb=make('text',{x:fx(t),y:1068,'font-size':FS,fill:'#000','text-anchor':'middle'});
    lb.textContent=v.labels[i];
    
    
  });
  const title=make('text',{x:LEFT[col]+PW/2,y:1092,'font-size':FS,fill:'#000','text-anchor':'middle'});
  segText(title,v.xseg,FS);
  
  
}
/* left y tick labels and titles */
for(let row=1;row<6;row++){
  const v=VARS[row],fy=yAxis(row);
  v.ticks.forEach((t,i)=>{
    const lb=make('text',{x:86,y:fy(t)+8,'font-size':FS,fill:'#000','text-anchor':'end'});
    lb.textContent=v.labels[i];
    
    
  });
  const yc=TOP[row]+PH/2,xc=23.5;
  const title=make('text',{x:xc,y:yc,'font-size':FS,fill:'#000','text-anchor':'middle',transform:'rotate(-90 '+xc+' '+yc+')'});
  segText(title,v.xseg,FS);
  
  
}
</script>
</body>
</html>
